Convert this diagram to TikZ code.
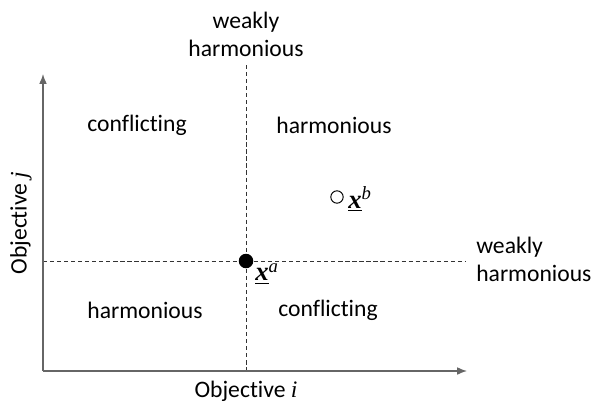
\documentclass[tikz,border=0pt]{standalone}
\usepackage{fontspec}
\setmainfont{Carlito}[Ligatures={NoCommon}]
\newfontfamily\varfont{Liberation Serif}
\usetikzlibrary{arrows.meta, positioning}

% italic symbols set in a serif face
\newcommand{\var}[1]{{\varfont\itshape #1}}
\newcommand{\vecpt}[1]{{\fontsize{19}{22}\selectfont\underline{\varfont\bfseries\itshape x}\textsuperscript{\varfont\itshape #1}}}

\begin{document}
\begin{tikzpicture}[
    x=0.025cm, y=-0.025cm,
    >={Latex[length=7pt,width=5.5pt]},
    every node/.style={font=\fontsize{16.8}{20}\selectfont},
    axis/.style={draw=black!60, line width=0.9pt},
    split/.style={draw=black!80, densely dashed, line width=0.5pt},
    region/.style={inner sep=0pt},
    lbl/.style={align=center, inner sep=0pt},
    pt/.style={circle, draw, line width=0.7pt, inner sep=0pt, minimum size=8.8pt},
]
    \useasboundingbox (0,0) rectangle (593,403);

    \coordinate (o)  at (43,371);
    \coordinate (xe) at (467,371);
    \coordinate (ye) at (43,74);
    \coordinate (c)  at (246,261);

    % dashed split lines
    \draw[split] (246,65) -- (246,371);
    \draw[split] (43,261) -- (466,261);

    % axes
    \draw[axis, ->] (o) -- (xe);
    \draw[axis, ->] (o) -- (ye);

    % points
    \node[pt, fill=black, minimum size=9.6pt] (xa) at (c) {};
    \node[pt, fill=white] (xb) at (337,197) {};
    \node[region, anchor=north west] (xal) at (255,263) {\vecpt{a}};
    \node[region, anchor=north west] (xbl) at (348,186) {\vecpt{b}};

    % quadrant labels
    \node[region] (q1) at (137,125) {conflicting};
    \node[region] (q2) at (334,125) {harmonious};
    \node[region] (q3) at (145,310) {harmonious};
    \node[region] (q4) at (328,310) {conflicting};

    % borders between quadrants
    \node[lbl] (wt) at (246,34) {weakly\\harmonious};
    \node[lbl, align=left, anchor=west] (wr) at (476,259) {weakly\\harmonious};

    % axis titles
    \node[region] (ax) at (246,391) {Objective \var{i}};
    \node[region, rotate=90] (ay) at (21,223) {Objective \var{j}};
\end{tikzpicture}
\end{document}
